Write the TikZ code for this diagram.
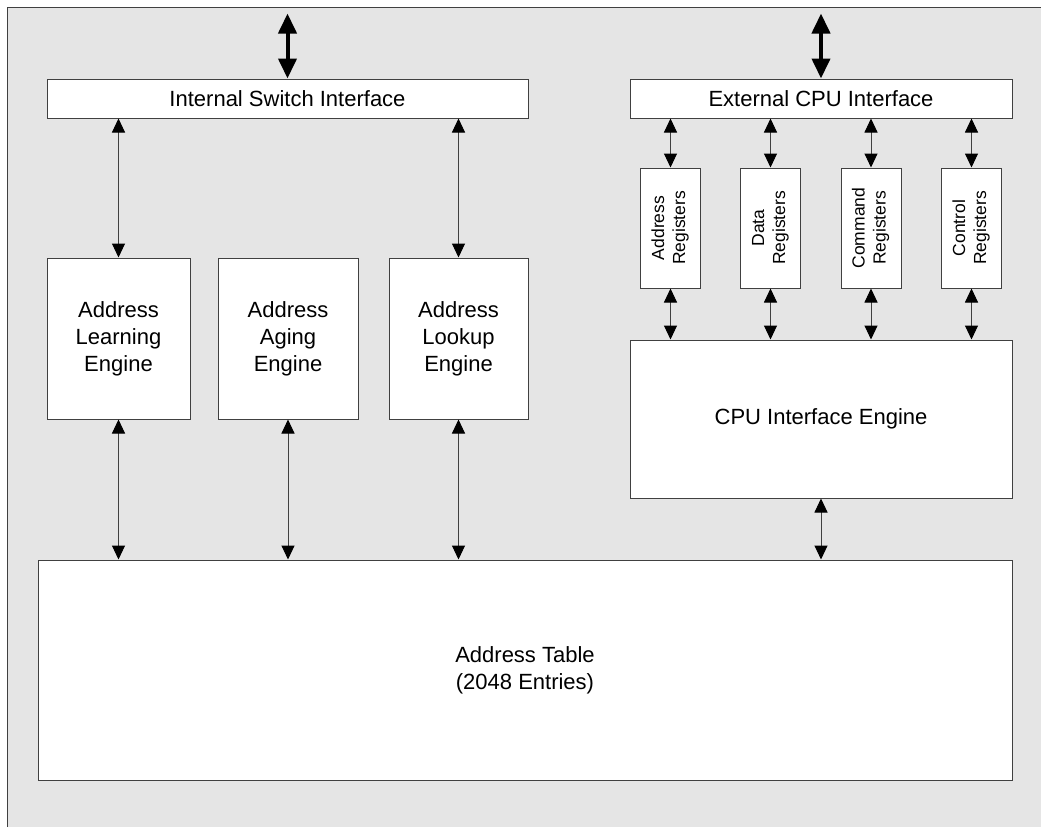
\documentclass[tikz,border=0pt]{standalone}
\usepackage{fontspec}
\setmainfont{Liberation Sans}
\usetikzlibrary{arrows.meta}
\definecolor{bg}{RGB}{229,229,229}
\definecolor{edge}{RGB}{64,64,64}
\begin{document}
\begin{tikzpicture}[x=1pt,y=-1pt,
  box/.style={draw=edge, fill=white, line width=1pt, inner sep=0pt, align=center,
              font=\fontsize{22}{27}\selectfont},
  regbox/.style={box, minimum width=60pt, minimum height=120pt,
              font=\fontsize{17.5}{21}\selectfont},
  link/.style={draw=edge, line width=1pt,
              {Triangle[width=13pt,length=14pt,color=black]}-{Triangle[width=13pt,length=14pt,color=black]}},
  bus/.style={draw=black, line width=4pt,
              {Triangle[width=18pt,length=20pt]}-{Triangle[width=18pt,length=20pt]}},
]
\useasboundingbox (0,0) rectangle (1041,827);
\fill[white] (0,0) rectangle (1041,827);
\fill[bg] (7,7) rectangle (1041,827);
\draw[edge, line width=1pt] (7,827) -- (7,7) -- (1041,7);

% interfaces
\node[box, minimum width=481pt, minimum height=39pt] (isi) at (287.5,98.5) {Internal Switch Interface};
\node[box, minimum width=382pt, minimum height=39pt] (eci) at (821,98.5) {External CPU Interface};

% engines
\node[box, minimum width=143pt, minimum height=161pt] (learn) at (118.5,338.5) {Address\\Learning\\Engine};
\node[box, minimum width=140pt, minimum height=161pt] (aging) at (288,338.5) {Address\\Aging\\Engine};
\node[box, minimum width=139pt, minimum height=161pt] (lookup) at (458.5,338.5) {Address\\Lookup\\Engine};

% registers
\node[regbox] (rAddr) at (670.5,228) {\rotatebox{90}{\begin{tabular}{@{}c@{}}Address\\Registers\end{tabular}}};
\node[regbox] (rData) at (770.5,228) {\rotatebox{90}{\begin{tabular}{@{}c@{}}Data\\Registers\end{tabular}}};
\node[regbox] (rCmd) at (871,228) {\rotatebox{90}{\begin{tabular}{@{}c@{}}Command\\Registers\end{tabular}}};
\node[regbox] (rCtl) at (971.5,228) {\rotatebox{90}{\begin{tabular}{@{}c@{}}Control\\Registers\end{tabular}}};

% CPU engine and table
\node[box, minimum width=382pt, minimum height=158pt] (cpu) at (821,419) {CPU Interface Engine};
\node[box, minimum width=974pt, minimum height=220pt] (table) at (525,670) {Address Table\\(2048 Entries)};

% external buses
\coordinate (isitop) at ([yshift=65pt]isi.north);
\coordinate (ecitop) at ([yshift=65pt]eci.north);
\draw[bus] (isitop) -- (isi.north);
\draw[bus] (ecitop) -- (eci.north);

% links
\draw[link] (isi.south -| learn.north) -- (learn.north);
\draw[link] (isi.south -| lookup.north) -- (lookup.north);
\foreach \e in {learn,aging,lookup}
  \draw[link] (\e.south) -- (table.north -| \e.south);
\draw[link] (cpu.south) -- (table.north -| cpu.south);
\foreach \r in {rAddr,rData,rCmd,rCtl}{
  \draw[link] (eci.south -| \r.north) -- (\r.north);
  \draw[link] (\r.south) -- (cpu.north -| \r.south);
}
\end{tikzpicture}
\end{document}
